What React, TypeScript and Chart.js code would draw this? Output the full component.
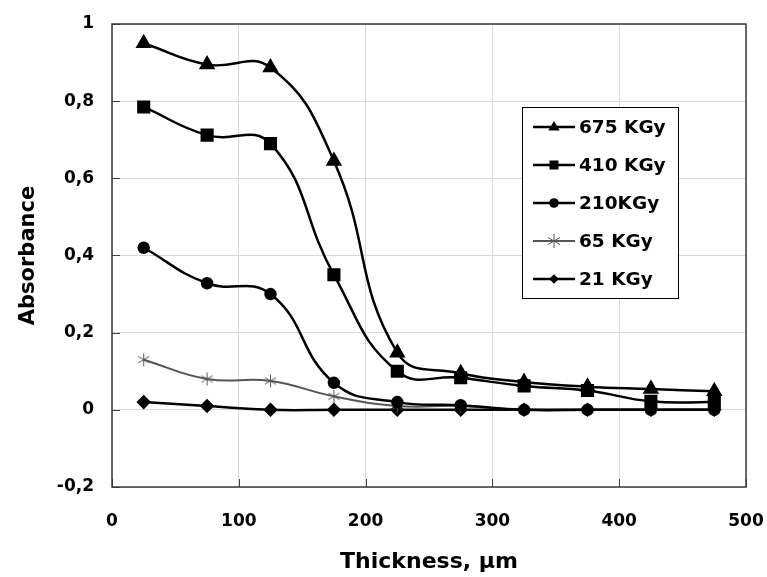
import React, { useEffect, useRef } from "react";
import { Chart, registerables } from "chart.js";

Chart.register(...registerables);

// ---- data ----
const thickness = [25, 75, 125, 175, 225, 275, 325, 375, 425, 475];
const dose675 = [0.95, 0.895, 0.887, 0.645, 0.148, 0.095, 0.072, 0.06, 0.054, 0.048];
const dose410 = [0.785, 0.712, 0.69, 0.35, 0.1, 0.083, 0.062, 0.05, 0.022, 0.02];
const dose210 = [0.42, 0.328, 0.3, 0.07, 0.02, 0.012, 0.0, 0.0, 0.0, 0.0];
const dose65 = [0.13, 0.08, 0.075, 0.035, 0.01, 0.01, 0.0, 0.0, 0.0, 0.0];
const dose21 = [0.02, 0.01, 0.0, 0.0, 0.0, 0.0, 0.0, 0.0, 0.0, 0.0];
const seriesLabels = ["675 KGy", "410 KGy", "210KGy", "65 KGy", "21 KGy"];
const xTickValues = [0, 100, 200, 300, 400, 500];
const yTickValues = [-0.2, 0, 0.2, 0.4, 0.6, 0.8, 1];

const FONT = "'DejaVu Sans', sans-serif";

function makeStar(size: number, color: string, lw: number): HTMLCanvasElement {
  const c = document.createElement("canvas");
  c.width = size;
  c.height = size;
  const g = c.getContext("2d")!;
  const m = size / 2;
  const r = size / 2 - 1;
  g.strokeStyle = color;
  g.lineWidth = lw;
  g.beginPath();
  g.moveTo(m, m - r);
  g.lineTo(m, m + r);
  const dx = r * Math.cos(Math.PI / 6);
  const dy = r * Math.sin(Math.PI / 6);
  g.moveTo(m - dx, m - dy);
  g.lineTo(m + dx, m + dy);
  g.moveTo(m - dx, m + dy);
  g.lineTo(m + dx, m - dy);
  g.stroke();
  return c;
}

function drawMarker(ctx: CanvasRenderingContext2D, kind: string, x: number, y: number, r: number, color: string) {
  ctx.save();
  ctx.fillStyle = color;
  ctx.strokeStyle = color;
  ctx.beginPath();
  if (kind === "triangle") {
    ctx.moveTo(x, y - r);
    ctx.lineTo(x + r * 0.95, y + r * 0.6);
    ctx.lineTo(x - r * 0.95, y + r * 0.6);
    ctx.closePath();
    ctx.fill();
  } else if (kind === "rect") {
    ctx.rect(x - r * 0.75, y - r * 0.75, r * 1.5, r * 1.5);
    ctx.fill();
  } else if (kind === "circle") {
    ctx.arc(x, y, r * 0.8, 0, Math.PI * 2);
    ctx.fill();
  } else if (kind === "diamond") {
    ctx.moveTo(x, y - r * 0.8);
    ctx.lineTo(x + r * 0.8, y);
    ctx.lineTo(x, y + r * 0.8);
    ctx.lineTo(x - r * 0.8, y);
    ctx.closePath();
    ctx.fill();
  } else if (kind === "star") {
    ctx.lineWidth = 1;
    const dx = r * Math.cos(Math.PI / 6);
    const dy = r * Math.sin(Math.PI / 6);
    ctx.moveTo(x, y - r);
    ctx.lineTo(x, y + r);
    ctx.moveTo(x - dx, y - dy);
    ctx.lineTo(x + dx, y + dy);
    ctx.moveTo(x - dx, y + dy);
    ctx.lineTo(x + dx, y - dy);
    ctx.stroke();
  }
  ctx.restore();
}

const markerKinds = ["triangle", "rect", "circle", "star", "diamond"];

const boxPlugin = {
  id: "boxPlugin",
  afterDatasetsDraw(chart: any) {
    const { ctx, chartArea } = chart;
    const { left, right, top, bottom } = chartArea;
    ctx.save();
    ctx.strokeStyle = "#404040";
    ctx.lineWidth = 1;
    const xs = chart.scales.x;
    const ys = chart.scales.y;
    ctx.beginPath();
    xTickValues.forEach((v) => {
      const px = Math.round(xs.getPixelForValue(v)) + 0.5;
      ctx.moveTo(px, bottom);
      ctx.lineTo(px, bottom - 8);
    });
    yTickValues.forEach((v) => {
      const py = Math.round(ys.getPixelForValue(v)) + 0.5;
      ctx.moveTo(left, py);
      ctx.lineTo(left + 8, py);
    });
    ctx.stroke();
    ctx.strokeStyle = "#3a3a3a";
    ctx.lineWidth = 1.5;
    ctx.strokeRect(left, top, right - left, bottom - top);
    ctx.restore();
  },
  afterDraw(chart: any) {
    const { ctx, chartArea } = chart;
    const x0 = chartArea.left + 410;
    const y0 = chartArea.top + 83;
    const w = 156;
    const h = 191;
    ctx.save();
    ctx.fillStyle = "#ffffff";
    ctx.fillRect(x0, y0, w, h);
    ctx.strokeStyle = "#000000";
    ctx.lineWidth = 1;
    ctx.strokeRect(x0 + 0.5, y0 + 0.5, w, h);
    chart.data.datasets.forEach((ds: any, i: number) => {
      const cy = y0 + 20 + i * 38;
      ctx.strokeStyle = ds.borderColor;
      ctx.lineWidth = ds.borderWidth;
      ctx.beginPath();
      ctx.moveTo(x0 + 11, cy);
      ctx.lineTo(x0 + 53, cy);
      ctx.stroke();
      drawMarker(ctx, markerKinds[i], x0 + 32, cy, i === 3 ? 7 : 6, i === 3 ? "#555555" : "#000000");
      ctx.fillStyle = "#000000";
      ctx.font = `bold 18.5px ${FONT}`;
      ctx.textBaseline = "middle";
      ctx.textAlign = "left";
      ctx.fillText(ds.label, x0 + 57, cy + 1);
    });
    ctx.restore();
  },
};

const fmt = (v: number) => {
  const r = Math.round(v * 10) / 10;
  return String(r).replace(".", ",");
};

export default function App() {
  const ref = useRef<HTMLCanvasElement | null>(null);

  useEffect(() => {
    if (!ref.current) return;
    const star = makeStar(15, "#555555", 1);
    const mk = (vals: number[]) => thickness.map((t, i) => ({ x: t, y: vals[i] }));
    const chart = new Chart(ref.current, {
      type: "line",
      data: {
        datasets: [
          {
            label: seriesLabels[0],
            data: mk(dose675),
            borderColor: "#000000",
            backgroundColor: "#000000",
            borderWidth: 2.5,
            pointStyle: "triangle",
            pointRadius: 7,
            tension: 0.45,
          },
          {
            label: seriesLabels[1],
            data: mk(dose410),
            borderColor: "#000000",
            backgroundColor: "#000000",
            borderWidth: 2.5,
            pointStyle: "rect",
            pointRadius: 7.5,
            tension: 0.45,
          },
          {
            label: seriesLabels[2],
            data: mk(dose210),
            borderColor: "#000000",
            backgroundColor: "#000000",
            borderWidth: 2.5,
            pointStyle: "circle",
            pointRadius: 5,
            tension: 0.45,
          },
          {
            label: seriesLabels[3],
            data: mk(dose65),
            borderColor: "#555555",
            backgroundColor: "#555555",
            borderWidth: 2,
            pointStyle: star as any,
            pointRadius: 7,
            tension: 0.45,
          },
          {
            label: seriesLabels[4],
            data: mk(dose21),
            borderColor: "#000000",
            backgroundColor: "#000000",
            borderWidth: 2.5,
            pointStyle: "rectRot",
            pointRadius: 5.5,
            tension: 0.45,
          },
        ],
      },
      options: {
        animation: false,
        responsive: true,
        maintainAspectRatio: false,
        layout: { padding: { top: 24, right: 21, left: 0, bottom: 0 } },
        plugins: {
          legend: { display: false },
          tooltip: { enabled: false },
        },
        scales: {
          x: {
            type: "linear",
            min: 0,
            max: 500,
            afterFit: (s: any) => {
              s.height = 90;
              s.paddingLeft = 0;
              s.paddingRight = 0;
            },
            afterBuildTicks: (s: any) => {
              s.ticks = xTickValues.map((v) => ({ value: v }));
            },
            border: { display: false },
            grid: { color: "#d9d9d9", lineWidth: 1, drawTicks: false },
            ticks: {
              padding: 24,
              color: "#000000",
              font: { family: FONT, size: 17, weight: "bold" },
              maxRotation: 0,
              callback: (v: any) => String(v),
            },
            title: {
              display: true,
              text: "Thickness, µm",
              color: "#000000",
              font: { family: FONT, size: 22, weight: "bold" },
              padding: { top: 0, bottom: 2 },
            },
          },
          y: {
            type: "linear",
            min: -0.2,
            max: 1,
            afterFit: (s: any) => {
              s.width = 112;
              s.paddingTop = 0;
              s.paddingBottom = 0;
            },
            afterBuildTicks: (s: any) => {
              s.ticks = yTickValues.map((v) => ({ value: v }));
            },
            border: { display: false },
            grid: { color: "#d9d9d9", lineWidth: 1, drawTicks: false },
            ticks: {
              padding: 18,
              color: "#000000",
              font: { family: FONT, size: 17, weight: "bold" },
              callback: (v: any) => fmt(Number(v)),
            },
            title: {
              display: true,
              text: "Absorbance",
              color: "#000000",
              font: { family: FONT, size: 21, weight: "bold" },
              padding: { top: 16, bottom: 0 },
            },
          },
        },
      },
      plugins: [boxPlugin],
    } as any);
    return () => chart.destroy();
  }, []);

  return (
    <div style={{ position: "fixed", left: 0, top: 0, width: 767, height: 577, background: "#ffffff" }}>
      <canvas ref={ref} />
    </div>
  );
}
